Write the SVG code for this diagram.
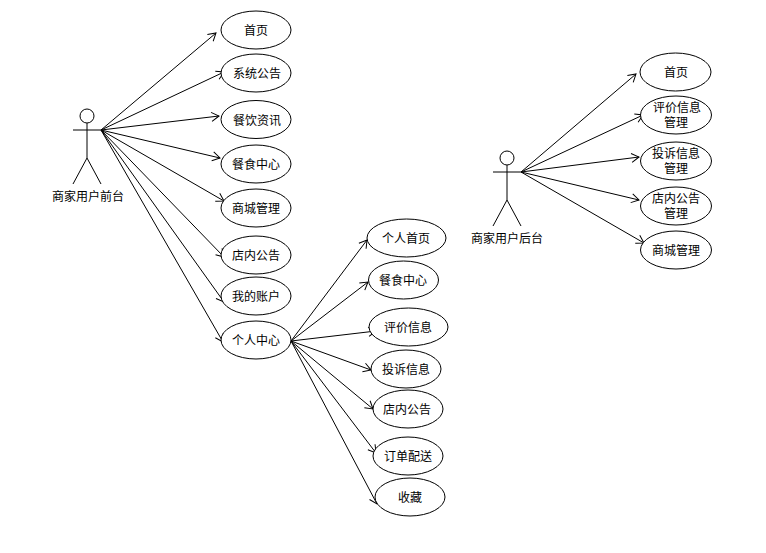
<svg xmlns="http://www.w3.org/2000/svg" width="766" height="553" viewBox="0 0 766 553">
<style>
text{font-family:"Noto Sans CJK SC","Noto Sans CJK JP",sans-serif;font-size:12px;fill:#000;text-anchor:middle}
ellipse,circle{fill:#fff;stroke:#000;stroke-width:1}
.l{fill:none;stroke:#000;stroke-width:1}
.c line{fill:none;stroke:#000;stroke-width:1;marker-end:url(#a)}
</style>
<defs>
<marker id="a" markerUnits="userSpaceOnUse" markerWidth="12" markerHeight="14" refX="10" refY="6" orient="auto" viewBox="0 0 12 12">
<path d="M2.500 1.500L10 6L2.500 10.500" fill="none" stroke="#000" stroke-width="1"/>
</marker>
</defs>
<rect width="766" height="553" fill="#fff"/>
<g id="connectors" class="c">
<line x1="101" y1="130" x2="216" y2="33"/>
<line x1="101" y1="130" x2="224" y2="72"/>
<line x1="101" y1="130" x2="219" y2="116"/>
<line x1="101" y1="130" x2="220" y2="158"/>
<line x1="101" y1="130" x2="224" y2="201"/>
<line x1="101" y1="130" x2="224" y2="257"/>
<line x1="101" y1="130" x2="224" y2="302"/>
<line x1="101" y1="130" x2="223" y2="342"/>
<line x1="291" y1="341" x2="367" y2="240"/>
<line x1="291" y1="341" x2="368" y2="282"/>
<line x1="291" y1="341" x2="376" y2="331"/>
<line x1="291" y1="341" x2="371" y2="370"/>
<line x1="291" y1="341" x2="373" y2="409"/>
<line x1="291" y1="341" x2="376" y2="453"/>
<line x1="291" y1="341" x2="377" y2="504"/>
<line x1="521" y1="172" x2="636" y2="74"/>
<line x1="521" y1="172" x2="643" y2="115"/>
<line x1="521" y1="172" x2="639" y2="157"/>
<line x1="521" y1="172" x2="639" y2="200"/>
<line x1="521" y1="172" x2="644" y2="243"/>
</g>
<g id="actor-front"><circle cx="87" cy="116" r="7"/><path class="l" d="M73 130H101M87 123V158L73 184M87 158L101 184"/><text x="88" y="201">商家用户前台</text></g>
<g id="actor-back"><circle cx="507" cy="158" r="7"/><path class="l" d="M493 172H521M507 165V200L493 226M507 200L521 226"/><text x="507" y="243">商家用户后台</text></g>
<g id="f1"><ellipse cx="256" cy="30" rx="35" ry="19"/><text x="256" y="35">首页</text></g>
<g id="f2"><ellipse cx="256" cy="73" rx="35" ry="19"/><text x="257" y="78">系统公告</text></g>
<g id="f3"><ellipse cx="256" cy="119.500" rx="35" ry="19"/><text x="257" y="125">餐饮资讯</text></g>
<g id="f4"><ellipse cx="256" cy="164" rx="35" ry="19"/><text x="256" y="169">餐食中心</text></g>
<g id="f5"><ellipse cx="256" cy="208" rx="35" ry="19"/><text x="256" y="213">商城管理</text></g>
<g id="f6"><ellipse cx="256" cy="255" rx="35" ry="19"/><text x="256" y="260">店内公告</text></g>
<g id="f7"><ellipse cx="256" cy="296" rx="35" ry="19"/><text x="256" y="301">我的账户</text></g>
<g id="f8"><ellipse cx="256" cy="340" rx="35" ry="19"/><text x="256" y="345">个人中心</text></g>
<g id="p1"><ellipse cx="406.500" cy="238" rx="39.500" ry="19"/><text x="406" y="243">个人首页</text></g>
<g id="p2"><ellipse cx="403.500" cy="280" rx="35" ry="19"/><text x="403" y="285">餐食中心</text></g>
<g id="p3"><ellipse cx="408.500" cy="327" rx="39.500" ry="19"/><text x="408" y="332">评价信息</text></g>
<g id="p4"><ellipse cx="406" cy="369" rx="35" ry="19"/><text x="406" y="374">投诉信息</text></g>
<g id="p5"><ellipse cx="408" cy="409" rx="35" ry="19"/><text x="407" y="414">店内公告</text></g>
<g id="p6"><ellipse cx="408" cy="456" rx="35" ry="19"/><text x="408" y="461">订单配送</text></g>
<g id="p7"><ellipse cx="410" cy="497" rx="35" ry="19"/><text x="410" y="502">收藏</text></g>
<g id="b1"><ellipse cx="675.500" cy="72" rx="35.500" ry="19"/><text x="676" y="77">首页</text></g>
<g id="b2"><ellipse cx="676" cy="115" rx="35.500" ry="19"/><text x="677" y="112">评价信息<tspan x="676" dy="15">管理</tspan></text></g>
<g id="b3"><ellipse cx="676" cy="161" rx="35.500" ry="19"/><text x="676" y="158">投诉信息<tspan x="676" dy="15">管理</tspan></text></g>
<g id="b4"><ellipse cx="676" cy="206" rx="35.500" ry="19"/><text x="676" y="203">店内公告<tspan x="676" dy="15">管理</tspan></text></g>
<g id="b5"><ellipse cx="676" cy="250" rx="35.500" ry="19"/><text x="676" y="255">商城管理</text></g>
</svg>
